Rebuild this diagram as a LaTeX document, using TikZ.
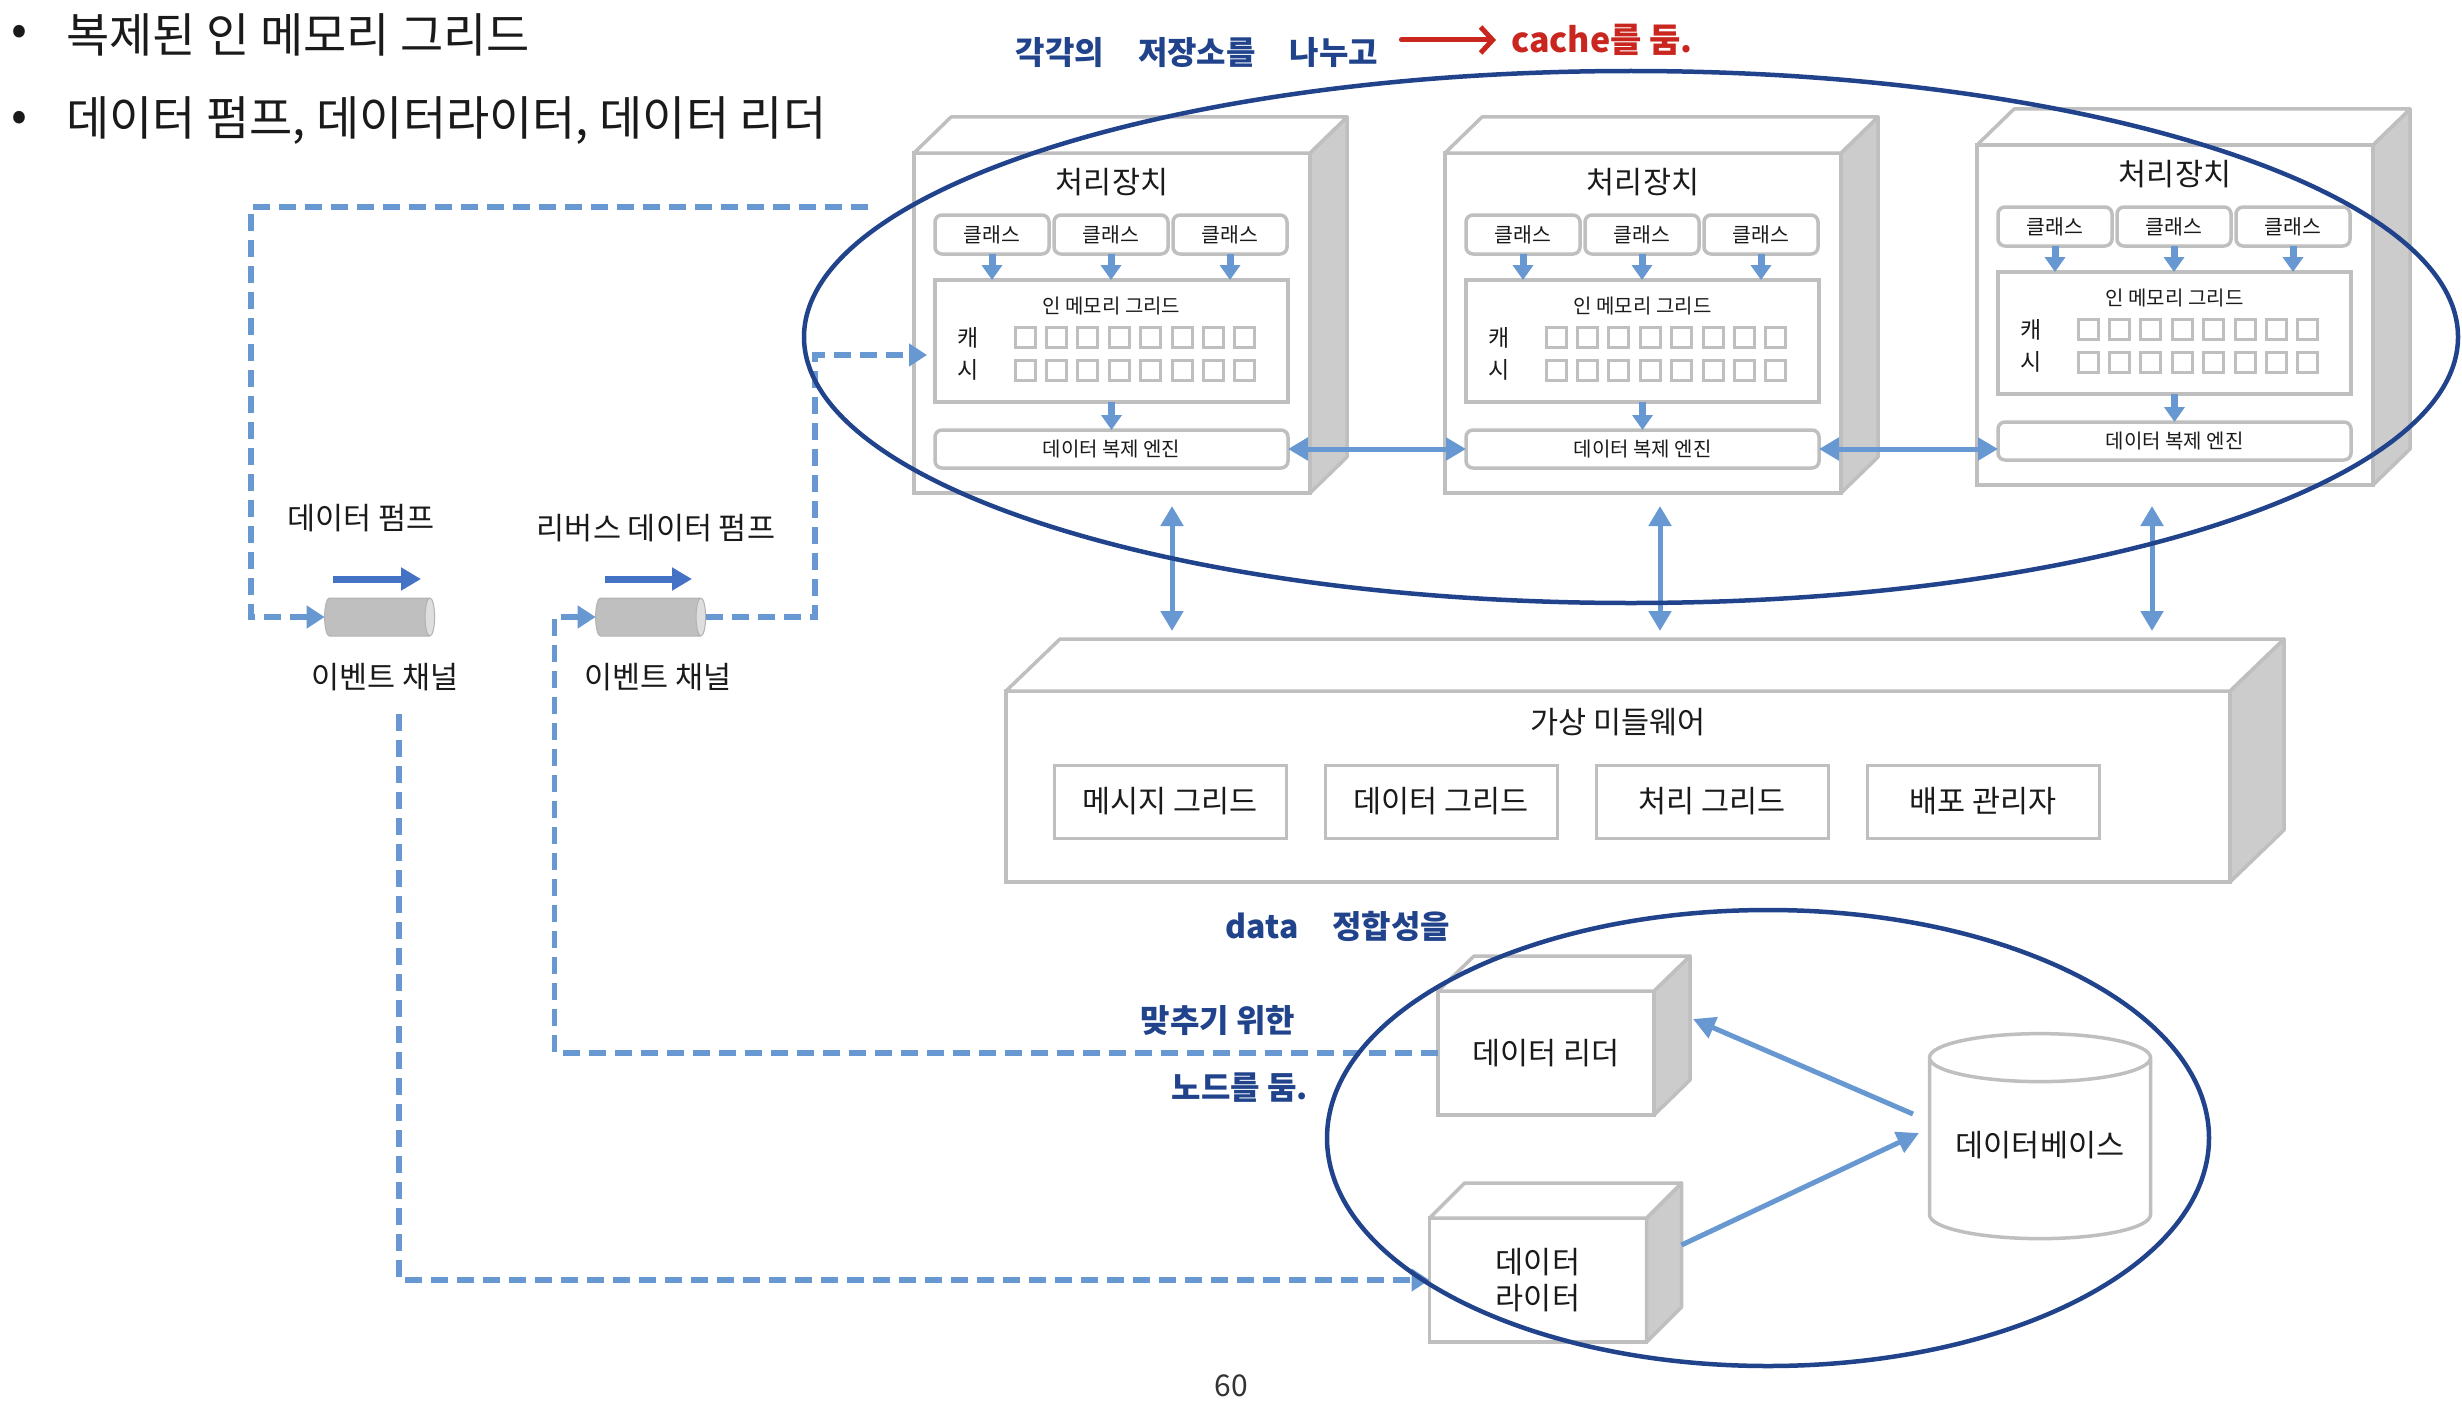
\documentclass[tikz,border=0pt]{standalone}
\usepackage{fontspec}
\setmainfont{Noto Sans CJK KR}
\usetikzlibrary{positioning,arrows.meta,shapes.geometric}

\definecolor{boxline}{RGB}{191,191,191}
\definecolor{sidegray}{RGB}{204,204,204}
\definecolor{chgray}{RGB}{191,191,191}
\definecolor{chend}{RGB}{222,222,222}
\definecolor{chline}{RGB}{178,178,178}
\definecolor{linkblue}{RGB}{104,152,209}
\definecolor{pumpblue}{RGB}{68,114,196}
\definecolor{penblue}{RGB}{33,67,140}
\definecolor{penred}{RGB}{200,38,30}
\definecolor{txt}{RGB}{26,26,26}

% top and side faces of a box drawn from its front face
\newcommand{\cubefaces}[3]{%
  \draw[sideface] (#1.north east) -- ++(#2,-#3) -- ([shift={(#2,-#3)}]#1.south east) -- (#1.south east) -- cycle;
  \draw[topface] (#1.north west) -- ++(#2,-#3) -- ([shift={(#2,-#3)}]#1.north east) -- (#1.north east) -- cycle;}

\begin{document}
\begin{tikzpicture}[x=1pt, y=-1pt, font=\fontsize{30.5}{36}\selectfont, text=txt,
  face/.style={draw=boxline, line width=3.5pt, fill=white, outer sep=0pt, inner sep=0pt, text=txt},
  sideface/.style={draw=boxline, line width=3.5pt, fill=sidegray, line join=round},
  topface/.style={draw=boxline, line width=3.5pt, fill=white, line join=round},
  cls/.style={face, rounded corners=7pt, minimum width=114pt, minimum height=39pt, font=\fontsize{20.5}{24}\selectfont},
  grid/.style={face, minimum width=353pt, minimum height=122pt},
  eng/.style={face, rounded corners=7pt, minimum width=353pt, minimum height=38pt, font=\fontsize{20}{24}\selectfont},
  cell/.style={draw=boxline, line width=3pt},
  sub/.style={face, line width=3pt, minimum width=232pt, minimum height=73pt},
  chan/.style={cylinder, cylinder uses custom fill, cylinder body fill=chgray, cylinder end fill=chend, draw=chline, line width=1pt, minimum height=110pt, minimum width=38pt, aspect=0.25, inner sep=0pt, outer sep=0pt},
  down/.style={draw=linkblue, line width=7pt, -{Triangle[width=20pt,length=15pt]}},
  both/.style={draw=linkblue, line width=5pt, {Triangle[width=22pt,length=20pt]}-{Triangle[width=22pt,length=20pt]}},
  link/.style={draw=linkblue, line width=5pt, -{Triangle[width=22pt,length=22pt]}},
  flow/.style={draw=linkblue, line width=5.5pt, dash pattern=on 17pt off 9pt, -{Triangle[width=22pt,length=18pt]}},
  pump/.style={draw=pumpblue, line width=7pt, -{Triangle[width=22pt,length=20pt]}},
  pen/.style={text=penblue, inner sep=3pt, font=\fontsize{32}{36}\selectfont\bfseries},
  group/.style={ellipse, draw=penblue, line width=4.5pt, inner sep=0pt}]
\useasboundingbox (0,0) rectangle (2462,1402);

% bullets
\node[font=\fontsize{47}{52}\selectfont] (dot1) at (19,35) {•};
\node[font=\fontsize{47}{52}\selectfont, anchor=west, inner sep=0pt] (item1) at (66,35) {복제된 인 메모리 그리드};
\node[font=\fontsize{47}{52}\selectfont] (dot2) at (19,121) {•};
\node[font=\fontsize{47}{52}\selectfont, anchor=west, inner sep=0pt] (item2) at (66,121) {데이터 펌프, 데이터라이터, 데이터 리더};

% processing units
\foreach \i/\cx/\cy in {1/1112/323, 2/1643/323, 3/2175/315}{
  \node[face, minimum width=396pt, minimum height=340pt] (p\i) at (\cx,\cy) {};
  \cubefaces{p\i}{37}{36}
  \node (ttl\i) at ([yshift=-29pt]p\i.north) {처리장치};
  \node[cls, below right=62pt and 21pt of p\i.north west] (cls\i1) {클래스};
  \node[cls, right=5pt of cls\i1] (cls\i2) {클래스};
  \node[cls, right=5pt of cls\i2] (cls\i3) {클래스};
  \node[grid, below right=127pt and 21pt of p\i.north west] (grid\i) {};
  \node[font=\fontsize{20}{24}\selectfont] (gl\i) at ([yshift=-26pt]grid\i.north) {인 메모리 그리드};
  \node[font=\fontsize{23}{26}\selectfont] (ca\i) at ([shift={(33,58)}]grid\i.north west) {캐};
  \node[font=\fontsize{23}{26}\selectfont] (si\i) at ([shift={(33,90)}]grid\i.north west) {시};
  \foreach \k in {0,...,7}{
    \draw[cell] ([shift={(80+31.4*\k,47)}]grid\i.north west) rectangle ++(20,20);
    \draw[cell] ([shift={(80+31.4*\k,80)}]grid\i.north west) rectangle ++(20,20);}
  \node[eng, below right=277pt and 21pt of p\i.north west] (eng\i) {데이터 복제 엔진};
  \draw[down] (cls\i1.south) -- (cls\i1.south |- grid\i.north);
  \draw[down] (cls\i2.south) -- (cls\i2.south |- grid\i.north);
  \draw[down] (cls\i3.south) -- (cls\i3.south |- grid\i.north);
  \draw[down] (grid\i.south) -- (eng\i.north);
}
\draw[both] (eng1.east) -- (eng2.west);
\draw[both] (eng2.east) -- (eng2.east -| eng3.west);

% middleware
\node[face, minimum width=1224pt, minimum height=191pt] (mw) at (1618,786.5) {};
\cubefaces{mw}{54}{52}
\node (mwt) at ([yshift=-31pt]mw.north) {가상 미들웨어};
\node[sub, below right=74pt and 48pt of mw.north west] (msg) {메시지 그리드};
\node[sub, right=39pt of msg] (dat) {데이터 그리드};
\node[sub, right=39pt of dat] (prc) {처리 그리드};
\node[sub, right=39pt of prc] (dep) {배포 관리자};
\draw[both, shorten <=13pt, shorten >=60pt] ([xshift=60pt]p1.south) -- ([xshift=60pt]p1.south |- mw.north);
\draw[both, shorten <=13pt, shorten >=60pt] ([xshift=17pt]p2.south) -- ([xshift=17pt]p2.south |- mw.north);
\draw[both, shorten <=21pt, shorten >=60pt] ([xshift=-23pt]p3.south) -- ([xshift=-23pt]p3.south |- mw.north);

% pumps and channels
\node[chan] (ch1) at (377,617) {\rule{0pt}{38pt}};
\node[chan] (ch2) at (648,617) {\rule{0pt}{38pt}};
\node (pl1) at (361,518) {데이터 펌프};
\node (pl2) at (656,528) {리버스 데이터 펌프};
\node (cl1) at (385,677) {이벤트 채널};
\node (cl2) at (658,677) {이벤트 채널};
\draw[pump] ([shift={(-44,-38)}]ch1.center) -- ([shift={(44,-38)}]ch1.center);
\draw[pump] ([shift={(-43,-38)}]ch2.center) -- ([shift={(44,-38)}]ch2.center);

% reader, writer, database
\node[face, minimum width=216pt, minimum height=124pt] (rd) at (1546,1053) {데이터 리더};
\cubefaces{rd}{36}{35}
\node[face, minimum width=217pt, minimum height=124pt, align=center, font=\fontsize{30.5}{36}\selectfont] (wr) at (1538,1280) {데이터\\라이터};
\cubefaces{wr}{35}{35}
\node[cylinder, shape border rotate=90, aspect=0.24, draw=boxline, line width=3.5pt, fill=white, minimum width=221pt, minimum height=205pt, inner sep=0pt] (db) at (2040,1149) {\rule{200pt}{0pt}};
\node (dbtxt) at ([yshift=4pt]db.center) {데이터베이스};
\draw[link] ([shift={(-127,-35)}]db.center) -- ([shift={(39,-34)}]rd.east);
\draw[link] ([shift={(35,-35)}]wr.east) -- ([shift={(-121,-16)}]db.center);

% dashed flows
\coordinate (pumpin) at (868,207);
\coordinate (pumpcorner) at (251,207);
\draw[flow] (pumpin) -- (pumpcorner) |- (ch1.west);
\coordinate (revup) at (815,355);
\draw[flow, shorten >=8pt] (ch2.east) -| (revup) -- (revup -| grid1.west);
\draw[flow] (rd.west) -| ([xshift=-41pt]ch2.west) -- (ch2.west);
\coordinate (wrfeed) at (399,714);
\draw[flow] (wrfeed) |- (wr.west);

% pen notes
\node[group, minimum width=1654pt, minimum height=532pt] (memgroup) at (1631,337) {};
\node[group, minimum width=882pt, minimum height=456pt] (dbgroup) at (1768,1138) {};
\node[pen] (note1) at (1197,53) {각각의\hspace{34pt}저장소를\hspace{34pt}나누고};
\node[pen, text=penred, font=\fontsize{34}{38}\selectfont\bfseries] (note2) at (1602,40) {cache를 둠.};
\draw[penred, line width=5pt, line cap=round, shorten <=20pt, shorten >=12pt, -{Straight Barb[length=12pt,width=26pt]}] (note1.east |- note2.west) -- (note2.west);
\node[pen] (note3) at (1338,926) {data\hspace{34pt}정합성을};
\node[pen] (note4) at (1218,1021) {맞추기 위한};
\node[pen] (note5) at (1240,1088) {노드를 둠.};

\node[font=\fontsize{30}{34}\selectfont, text=black!80] (pgno) at (1231,1386) {60};
\end{tikzpicture}
\end{document}
